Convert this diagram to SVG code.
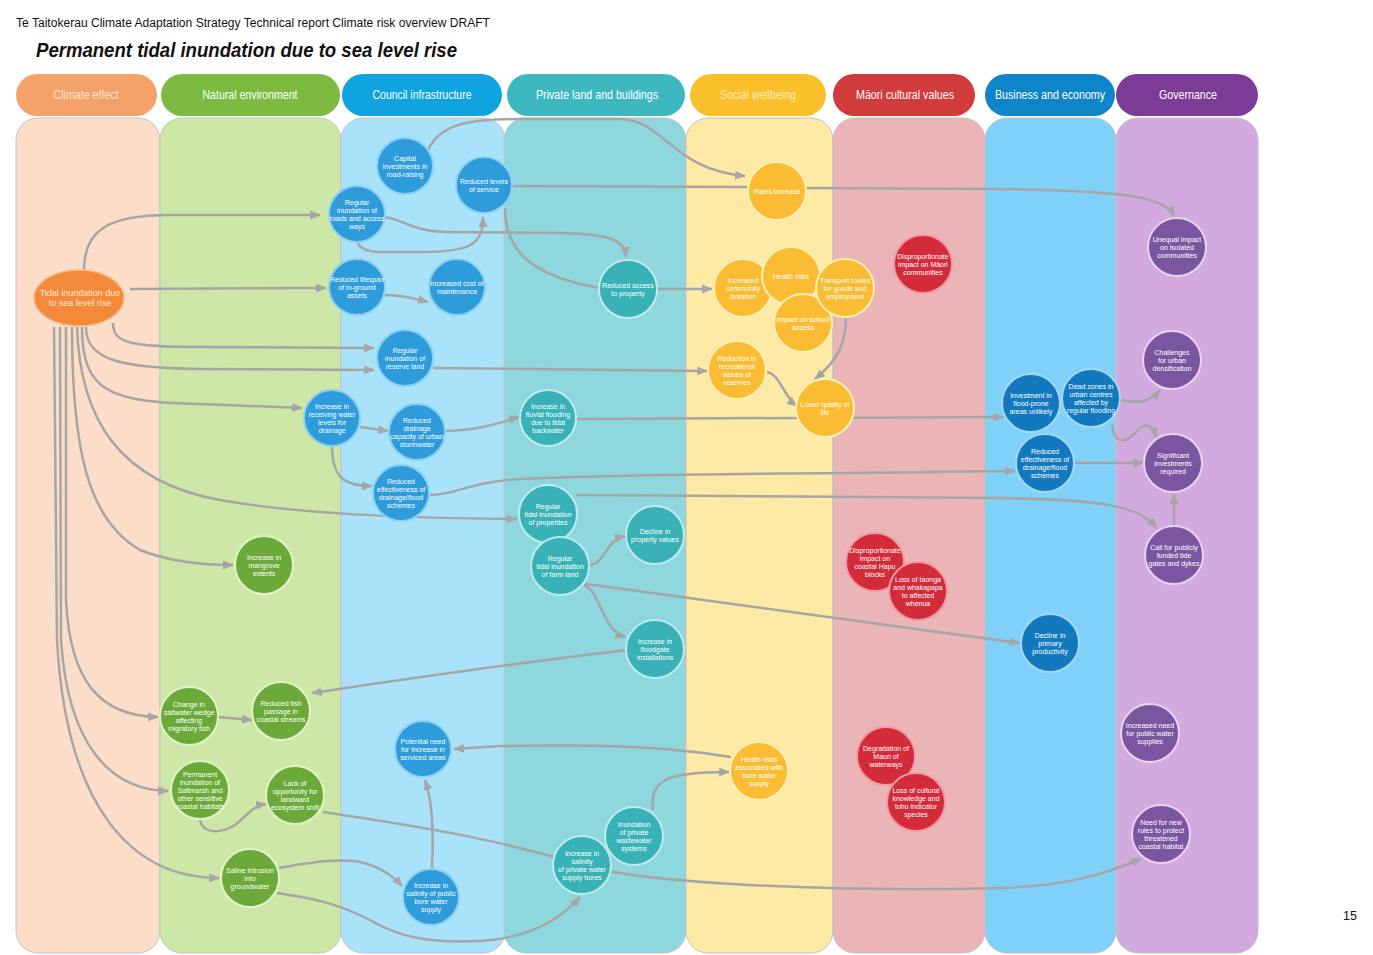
<svg xmlns="http://www.w3.org/2000/svg" width="1373" height="955" viewBox="0 0 1373 955">
<defs>
<marker id="ah" viewBox="0 0 10 10" refX="9" refY="5" markerWidth="11" markerHeight="11" markerUnits="userSpaceOnUse" orient="auto"><path d="M0,1 L10,5 L0,9 z" fill="#A6A6A6"/></marker>
</defs>
<style>
.bd{stroke:#C2C2C2;stroke-width:1}
.hdr{font-family:"Liberation Sans",Arial,sans-serif;font-size:12px;fill:#fff;text-anchor:middle}
.lb{font-family:"Liberation Sans",Arial,sans-serif;font-size:7px;fill:#fff;text-anchor:middle}
.c{fill:none;stroke:#A6A6A6;stroke-width:2.5}
.a{marker-end:url(#ah)}
.nci{fill:#2E9BDA;stroke:#8ED0F2;stroke-width:2}
.nne{fill:#6BAA38;stroke:#E2F2CB;stroke-width:2}
.npl{fill:#38B2B6;stroke:#BFEAEE;stroke-width:2}
.nsw{fill:#F9BC32;stroke:#FFF0B5;stroke-width:2}
.nmc{fill:#D42B3B;stroke:#F09AA2;stroke-width:2}
.nbe{fill:#1279BF;stroke:#A6D7F2;stroke-width:2}
.ngv{fill:#7B56A0;stroke:#E8D4F0;stroke-width:2}
</style>
<rect width="1373" height="955" fill="#fff"/>
<text x="16" y="27" font-family="Liberation Sans, Arial, sans-serif" font-size="12.5" fill="#111" textLength="474" lengthAdjust="spacingAndGlyphs">Te Taitokerau Climate Adaptation Strategy Technical report Climate risk overview DRAFT</text>
<text x="36" y="57" font-family="Liberation Sans, Arial, sans-serif" font-size="20" font-weight="bold" font-style="italic" fill="#111" textLength="421" lengthAdjust="spacingAndGlyphs">Permanent tidal inundation due to sea level rise</text>
<text x="1343" y="920" font-family="Liberation Sans, Arial, sans-serif" font-size="12.5" fill="#111">15</text>

<g id="columns">
<rect class="bd" x="16" y="118" width="144" height="835" rx="22" fill="#FCDEC8"/>
<rect class="bd" x="160" y="118" width="181" height="835" rx="22" fill="#CDE7A7"/>
<rect class="bd" x="341" y="118" width="164" height="835" rx="22" fill="#A9E3FA"/>
<rect class="bd" x="504" y="118" width="182" height="835" rx="22" fill="#8ED7DE"/>
<rect class="bd" x="686" y="118" width="147" height="835" rx="22" fill="#FEE9A5"/>
<rect class="bd" x="833" y="118" width="152" height="835" rx="22" fill="#EBB5B7"/>
<rect class="bd" x="985" y="118" width="131" height="835" rx="22" fill="#80D1F9"/>
<rect class="bd" x="1116" y="118" width="142" height="835" rx="22" fill="#D2AAE0"/>
</g>
<g id="headers">
<rect x="16" y="74" width="141" height="42" rx="21" fill="#F5A26A"/>
<text class="hdr" x="86" y="99" fill="#FCE3D2" style="fill:#FCE3D2" textLength="65" lengthAdjust="spacingAndGlyphs">Climate effect</text>
<rect x="161" y="74" width="179" height="42" rx="21" fill="#7DBB40"/>
<text class="hdr" x="250" y="99" textLength="95" lengthAdjust="spacingAndGlyphs">Natural environment</text>
<rect x="342" y="74" width="160" height="42" rx="21" fill="#0FA3E0"/>
<text class="hdr" x="422" y="99" textLength="99" lengthAdjust="spacingAndGlyphs">Council infrastructure</text>
<rect x="507" y="74" width="178" height="42" rx="21" fill="#3EB8C0"/>
<text class="hdr" x="597" y="99" textLength="122" lengthAdjust="spacingAndGlyphs">Private land and buildings</text>
<rect x="690" y="74" width="136" height="42" rx="21" fill="#FAC02C"/>
<text class="hdr" x="758" y="99" style="fill:#FDEBB5" textLength="76" lengthAdjust="spacingAndGlyphs">Social wellbeing</text>
<rect x="833" y="74" width="142" height="42" rx="21" fill="#D23B3B"/>
<text class="hdr" x="905" y="99" textLength="98" lengthAdjust="spacingAndGlyphs">Māori cultural values</text>
<rect x="985" y="74" width="130" height="42" rx="21" fill="#0D85C8"/>
<text class="hdr" x="1050" y="99" textLength="110" lengthAdjust="spacingAndGlyphs">Business and economy</text>
<rect x="1116" y="74" width="142" height="42" rx="21" fill="#7B3B96"/>
<text class="hdr" x="1188" y="99" textLength="58" lengthAdjust="spacingAndGlyphs">Governance</text>
</g>

<g id="connectors">
<path class="c a" d="M84,270 C84,232 105,215 170,215 L320,215"/>
<path class="c a" d="M130,289 L326,288"/>
<path class="c a" d="M113,323 C113,343 130,347 200,347 L374,348"/>
<path class="c a" d="M86,327 C86,358 115,368 200,369 L374,370"/>
<path class="c a" d="M82,327 C82,392 110,402 200,404 L302,408"/>
<path class="c a" d="M77,327 C80,420 120,482 220,500 C300,514 400,518 517,519"/>
<path class="c a" d="M72,327 C72,450 88,520 140,550 C170,562 200,565 233,565"/>
<path class="c a" d="M66,327 L66,600 C70,682 100,716 158,717"/>
<path class="c a" d="M60,327 L61,640 C68,745 110,790 168,791"/>
<path class="c a" d="M54,327 L57,640 C66,805 130,878 219,878"/>
<path class="c a" d="M428,150 C440,125 465,119 520,119 L620,119 C665,120 672,170 745,176"/>
<path class="c a" d="M358,243 C362,254 380,252 420,252 C470,252 483,245 483,217"/>
<path class="c a" d="M384,217 C402,218 410,232 450,232 L560,233 C610,234 625,240 626,257"/>
<path class="c" d="M505,208 C505,250 530,276 600,288"/>
<path class="c a" d="M657,289 L712,289"/>
<path class="c" d="M512,186 L749,187"/>
<path class="c a" d="M806,188 L1000,189 C1120,191 1165,196 1174,216"/>
<path class="c a" d="M385,295 C402,295 412,298 428,302"/>
<path class="c a" d="M433,368 L707,371"/>
<path class="c a" d="M765,372 C780,372 782,395 797,406"/>
<path class="c a" d="M846,317 C846,345 836,362 815,379"/>
<path class="c a" d="M360,427 L388,431"/>
<path class="c a" d="M446,431 C480,430 495,424 519,417"/>
<path class="c a" d="M332,446 C332,478 345,486 372,486"/>
<path class="c a" d="M577,419 L1003,417"/>
<path class="c a" d="M430,495 C455,495 470,482 520,479 C600,475 700,474 850,473 L1015,471"/>
<path class="c a" d="M576,495 L1000,498 C1100,500 1140,505 1156,528"/>
<path class="c a" d="M589,565 C605,565 605,540 625,536"/>
<path class="c a" d="M584,585 C600,590 602,630 625,637"/>
<path class="c a" d="M586,584 C700,600 850,620 1019,643"/>
<path class="c a" d="M627,650 C500,665 400,680 312,693"/>
<path class="c a" d="M1120,400 C1140,404 1150,402 1160,390"/>
<path class="c a" d="M1112,424 C1114,445 1125,443 1135,433 C1145,422 1152,423 1156,437"/>
<path class="c a" d="M1074,463 L1143,463"/>
<path class="c a" d="M1174,526 L1174,494"/>
<path class="c a" d="M218,717 L252,720"/>
<path class="c a" d="M200,820 C203,834 220,834 235,825 C248,815 252,806 266,804"/>
<path class="c a" d="M323,812 C430,828 500,840 582,865 C650,885 850,892 1000,888 C1070,886 1110,872 1141,859"/>
<path class="c a" d="M279,868 C310,862 340,858 360,862 C380,866 395,878 402,886"/>
<path class="c a" d="M277,893 C310,898 335,902 370,920 C400,938 430,943 480,941 C530,938 560,920 580,897"/>
<path class="c a" d="M432,868 C434,830 432,800 425,780"/>
<path class="c a" d="M731,757 C650,744 580,745 500,746 L454,749"/>
<path class="c a" d="M653,810 C650,780 665,772 729,772"/>
</g>

<g id="n-tidal"><ellipse cx="79" cy="298" rx="45" ry="28" fill="#F28A3A" stroke="#F7B98A" stroke-width="1.5"/>
<text class="lb" style="font-size:9px;fill:#FCE6D6"><tspan x="80" y="296">Tidal inundation due</tspan><tspan x="80" y="306">to sea level rise</tspan></text></g>

<g id="n-capital"><circle class="nci" cx="405" cy="166" r="28"/><text class="lb"><tspan x="405" y="160.5">Capital</tspan><tspan x="405" y="168.5">investments in</tspan><tspan x="405" y="176.5">road-raising</tspan></text></g>
<g id="n-levels"><circle class="nci" cx="484" cy="185" r="28"/><text class="lb"><tspan x="484" y="183.5">Reduced levels</tspan><tspan x="484" y="191.5">of service</tspan></text></g>
<g id="n-roads"><circle class="nci" cx="357" cy="214" r="28"/><text class="lb"><tspan x="357" y="204.5">Regular</tspan><tspan x="357" y="212.5">inundation of</tspan><tspan x="357" y="220.5">roads and access</tspan><tspan x="357" y="228.5">ways</tspan></text></g>
<g id="n-lifespan"><circle class="nci" cx="357" cy="287" r="28"/><text class="lb"><tspan x="357" y="281.5">Reduced lifespan</tspan><tspan x="357" y="289.5">of in-ground</tspan><tspan x="357" y="297.5">assets</tspan></text></g>
<g id="n-maint"><circle class="nci" cx="457" cy="287" r="28"/><text class="lb"><tspan x="457" y="285.5">Increased cost of</tspan><tspan x="457" y="293.5">maintenance</tspan></text></g>
<g id="n-reserve"><circle class="nci" cx="405" cy="358" r="28"/><text class="lb"><tspan x="405" y="352.5">Regular</tspan><tspan x="405" y="360.5">inundation of</tspan><tspan x="405" y="368.5">reserve land</tspan></text></g>
<g id="n-receiving"><circle class="nci" cx="332" cy="418" r="28"/><text class="lb"><tspan x="332" y="408.5">Increase in</tspan><tspan x="332" y="416.5">receiving water</tspan><tspan x="332" y="424.5">levels for</tspan><tspan x="332" y="432.5">drainage</tspan></text></g>
<g id="n-drainage"><circle class="nci" cx="417" cy="432" r="28"/><text class="lb"><tspan x="417" y="422.5">Reduced</tspan><tspan x="417" y="430.5">drainage</tspan><tspan x="417" y="438.5">capacity of urban</tspan><tspan x="417" y="446.5">stormwater</tspan></text></g>
<g id="n-effect-c"><circle class="nci" cx="401" cy="493" r="28"/><text class="lb"><tspan x="401" y="483.5">Reduced</tspan><tspan x="401" y="491.5">effectiveness of</tspan><tspan x="401" y="499.5">drainage/flood</tspan><tspan x="401" y="507.5">schemes</tspan></text></g>
<g id="n-serviced"><circle class="nci" cx="423" cy="749" r="28"/><text class="lb"><tspan x="423" y="743.5">Potential need</tspan><tspan x="423" y="751.5">for increase in</tspan><tspan x="423" y="759.5">serviced areas</tspan></text></g>
<g id="n-publicbore"><circle class="nci" cx="431" cy="897" r="28"/><text class="lb"><tspan x="431" y="887.5">Increase in</tspan><tspan x="431" y="895.5">salinity of public</tspan><tspan x="431" y="903.5">bore water</tspan><tspan x="431" y="911.5">supply</tspan></text></g>

<g id="n-mangrove"><circle class="nne" cx="264" cy="565" r="29"/><text class="lb"><tspan x="264" y="559.5">Increase in</tspan><tspan x="264" y="567.5">mangrove</tspan><tspan x="264" y="575.5">extents</tspan></text></g>
<g id="n-wedge"><circle class="nne" cx="189" cy="716" r="29"/><text class="lb"><tspan x="189" y="706.5">Change in</tspan><tspan x="189" y="714.5">saltwater wedge</tspan><tspan x="189" y="722.5">affecting</tspan><tspan x="189" y="730.5">migratory fish</tspan></text></g>
<g id="n-fish"><circle class="nne" cx="281" cy="711" r="29"/><text class="lb"><tspan x="281" y="705.5">Reduced fish</tspan><tspan x="281" y="713.5">passage in</tspan><tspan x="281" y="721.5">coastal streams</tspan></text></g>
<g id="n-saltmarsh"><circle class="nne" cx="200" cy="790" r="29"/><text class="lb"><tspan x="200" y="776.5">Permanent</tspan><tspan x="200" y="784.5">inundation of</tspan><tspan x="200" y="792.5">Saltmarsh and</tspan><tspan x="200" y="800.5">other sensitive</tspan><tspan x="200" y="808.5">coastal habitats</tspan></text></g>
<g id="n-landward"><circle class="nne" cx="295" cy="795" r="29"/><text class="lb"><tspan x="295" y="785.5">Lack of</tspan><tspan x="295" y="793.5">opportunity for</tspan><tspan x="295" y="801.5">landward</tspan><tspan x="295" y="809.5">ecosystem shift</tspan></text></g>
<g id="n-saline"><circle class="nne" cx="250" cy="878" r="29"/><text class="lb"><tspan x="250" y="872.5">Saline intrusion</tspan><tspan x="250" y="880.5">into</tspan><tspan x="250" y="888.5">groundwater</tspan></text></g>

<g id="n-access"><circle class="npl" cx="628" cy="289" r="29"/><text class="lb"><tspan x="628" y="287.5">Reduced access</tspan><tspan x="628" y="295.5">to property</tspan></text></g>
<g id="n-fluvial"><circle class="npl" cx="548" cy="418" r="28"/><text class="lb"><tspan x="548" y="408.5">Increase in</tspan><tspan x="548" y="416.5">fluvial flooding</tspan><tspan x="548" y="424.5">due to tidal</tspan><tspan x="548" y="432.5">backwater</tspan></text></g>
<g id="n-properties"><circle class="npl" cx="548" cy="514" r="29"/><text class="lb"><tspan x="548" y="508.5">Regular</tspan><tspan x="548" y="516.5">tidal inundation</tspan><tspan x="548" y="524.5">of properties</tspan></text></g>
<g id="n-farm"><circle class="npl" cx="560" cy="566" r="29"/><text class="lb"><tspan x="560" y="560.5">Regular</tspan><tspan x="560" y="568.5">tidal inundation</tspan><tspan x="560" y="576.5">of farm land</tspan></text></g>
<g id="n-propvalues"><circle class="npl" cx="655" cy="535" r="29"/><text class="lb"><tspan x="655" y="533.5">Decline in</tspan><tspan x="655" y="541.5">property values</tspan></text></g>
<g id="n-floodgate"><circle class="npl" cx="655" cy="649" r="29"/><text class="lb"><tspan x="655" y="643.5">Increase in</tspan><tspan x="655" y="651.5">floodgate</tspan><tspan x="655" y="659.5">installations</tspan></text></g>
<g id="n-wastewater"><circle class="npl" cx="634" cy="836" r="29"/><text class="lb"><tspan x="634" y="826.5">Inundation</tspan><tspan x="634" y="834.5">of private</tspan><tspan x="634" y="842.5">wastewater</tspan><tspan x="634" y="850.5">systems</tspan></text></g>
<g id="n-privatebores"><circle class="npl" cx="582" cy="865" r="29"/><text class="lb"><tspan x="582" y="855.5">Increase in</tspan><tspan x="582" y="863.5">salinity</tspan><tspan x="582" y="871.5">of private water</tspan><tspan x="582" y="879.5">supply bores</tspan></text></g>

<g id="n-rates"><circle class="nsw" cx="777" cy="191" r="29"/><text class="lb"><tspan x="777" y="193.5">Rates increase</tspan></text></g>
<g id="n-isolation"><circle class="nsw" cx="743" cy="288" r="29"/><text class="lb"><tspan x="743" y="282.5">Increased</tspan><tspan x="743" y="290.5">community</tspan><tspan x="743" y="298.5">isolation</tspan></text></g>
<g id="n-health"><circle class="nsw" cx="791" cy="276" r="29"/><text class="lb"><tspan x="791" y="278.5">Health risks</tspan></text></g>
<g id="n-school"><circle class="nsw" cx="803" cy="323" r="29"/><text class="lb"><tspan x="803" y="321.5">Impact on school</tspan><tspan x="803" y="329.5">access</tspan></text></g>
<g id="n-transport"><circle class="nsw" cx="845" cy="288" r="29"/><text class="lb"><tspan x="845" y="282.5">Transport routes</tspan><tspan x="845" y="290.5">for goods and</tspan><tspan x="845" y="298.5">employment</tspan></text></g>
<g id="n-recreation"><circle class="nsw" cx="737" cy="370" r="29"/><text class="lb"><tspan x="737" y="360.5">Reduction in</tspan><tspan x="737" y="368.5">recreational</tspan><tspan x="737" y="376.5">values of</tspan><tspan x="737" y="384.5">reserves</tspan></text></g>
<g id="n-quality"><circle class="nsw" cx="825" cy="408" r="29"/><text class="lb"><tspan x="825" y="406.5">Lower quality of</tspan><tspan x="825" y="414.5">life</tspan></text></g>
<g id="n-borehealth"><circle class="nsw" cx="759" cy="771" r="29"/><text class="lb"><tspan x="759" y="761.5">Health risks</tspan><tspan x="759" y="769.5">associated with</tspan><tspan x="759" y="777.5">bore water</tspan><tspan x="759" y="785.5">supply</tspan></text></g>

<g id="n-maori"><circle class="nmc" cx="923" cy="264" r="29"/><text class="lb"><tspan x="923" y="258.5">Disproportionate</tspan><tspan x="923" y="266.5">impact on Māori</tspan><tspan x="923" y="274.5">communities</tspan></text></g>
<g id="n-hapu"><circle class="nmc" cx="875" cy="562" r="29"/><text class="lb"><tspan x="875" y="552.5">Disproportionate</tspan><tspan x="875" y="560.5">impact on</tspan><tspan x="875" y="568.5">coastal Hapu</tspan><tspan x="875" y="576.5">blocks</tspan></text></g>
<g id="n-taonga"><circle class="nmc" cx="918" cy="591" r="29"/><text class="lb"><tspan x="918" y="581.5">Loss of taonga</tspan><tspan x="918" y="589.5">and whakapapa</tspan><tspan x="918" y="597.5">to affected</tspan><tspan x="918" y="605.5">whenua</tspan></text></g>
<g id="n-mauri"><circle class="nmc" cx="886" cy="756" r="29"/><text class="lb"><tspan x="886" y="750.5">Degradation of</tspan><tspan x="886" y="758.5">Mauri of</tspan><tspan x="886" y="766.5">waterways</tspan></text></g>
<g id="n-tohu"><circle class="nmc" cx="916" cy="802" r="29"/><text class="lb"><tspan x="916" y="792.5">Loss of cultural</tspan><tspan x="916" y="800.5">knowledge and</tspan><tspan x="916" y="808.5">tohu indicator</tspan><tspan x="916" y="816.5">species</tspan></text></g>

<g id="n-investment"><circle class="nbe" cx="1031" cy="403" r="29"/><text class="lb"><tspan x="1031" y="397.5">Investment in</tspan><tspan x="1031" y="405.5">flood-prone</tspan><tspan x="1031" y="413.5">areas unlikely</tspan></text></g>
<g id="n-deadzones"><circle class="nbe" cx="1091" cy="398" r="29"/><text class="lb"><tspan x="1091" y="388.5">Dead zones in</tspan><tspan x="1091" y="396.5">urban centres</tspan><tspan x="1091" y="404.5">affected by</tspan><tspan x="1091" y="412.5">regular flooding</tspan></text></g>
<g id="n-effect-b"><circle class="nbe" cx="1045" cy="463" r="29"/><text class="lb"><tspan x="1045" y="453.5">Reduced</tspan><tspan x="1045" y="461.5">effectiveness of</tspan><tspan x="1045" y="469.5">drainage/flood</tspan><tspan x="1045" y="477.5">schemes</tspan></text></g>
<g id="n-primary"><circle class="nbe" cx="1050" cy="643" r="29"/><text class="lb"><tspan x="1050" y="637.5">Decline in</tspan><tspan x="1050" y="645.5">primary</tspan><tspan x="1050" y="653.5">productivity</tspan></text></g>

<g id="n-unequal"><circle class="ngv" cx="1177" cy="247" r="29"/><text class="lb"><tspan x="1177" y="241.5">Unequal impact</tspan><tspan x="1177" y="249.5">on isolated</tspan><tspan x="1177" y="257.5">communities</tspan></text></g>
<g id="n-densification"><circle class="ngv" cx="1172" cy="360" r="29"/><text class="lb"><tspan x="1172" y="354.5">Challenges</tspan><tspan x="1172" y="362.5">for urban</tspan><tspan x="1172" y="370.5">densification</tspan></text></g>
<g id="n-significant"><circle class="ngv" cx="1173" cy="463" r="29"/><text class="lb"><tspan x="1173" y="457.5">Significant</tspan><tspan x="1173" y="465.5">investments</tspan><tspan x="1173" y="473.5">required</tspan></text></g>
<g id="n-tidegates"><circle class="ngv" cx="1174" cy="555" r="29"/><text class="lb"><tspan x="1174" y="549.5">Call for publicly</tspan><tspan x="1174" y="557.5">funded tide</tspan><tspan x="1174" y="565.5">gates and dykes</tspan></text></g>
<g id="n-publicwater"><circle class="ngv" cx="1150" cy="733" r="29"/><text class="lb"><tspan x="1150" y="727.5">Increased need</tspan><tspan x="1150" y="735.5">for public water</tspan><tspan x="1150" y="743.5">supplies</tspan></text></g>
<g id="n-rules"><circle class="ngv" cx="1161" cy="834" r="29"/><text class="lb"><tspan x="1161" y="824.5">Need for new</tspan><tspan x="1161" y="832.5">rules to protect</tspan><tspan x="1161" y="840.5">threatened</tspan><tspan x="1161" y="848.5">coastal habitat</tspan></text></g>
</svg>
